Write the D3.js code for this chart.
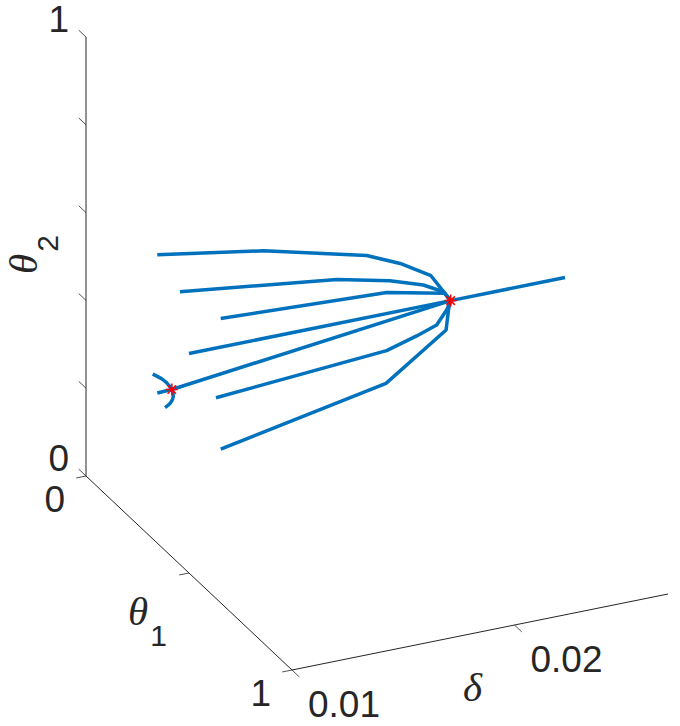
<!DOCTYPE html>
<html>
<head>
<meta charset="utf-8">
<script src="https://cdn.jsdelivr.net/npm/d3@7"></script>
<style>
  html, body { margin: 0; padding: 0; background: #fff; }
  .tick-label { font-family: "Liberation Sans", Arial, Helvetica, sans-serif; font-size: 37px; fill: #262626; }
  .axis-title { font-family: "Liberation Serif", "Times New Roman", serif; font-style: italic; font-size: 41px; fill: #262626; }
  .sub { font-family: "Liberation Sans", Arial, sans-serif; font-style: normal; font-size: 30px; }
</style>
</head>
<body>
<div id="main"></div>
<script>
// axis ranges and ticks
const deltaDomain = [0.01, 0.0269];
const theta1Domain = [0, 1];
const theta2Domain = [0, 1];
const deltaTicks = [0.01, 0.02];
const theta1Ticks = [0, 0.5, 1];
const theta2Ticks = [0, 0.2, 0.4, 0.6, 0.8, 1];
const deltaTickLabels = ["0.01", "0.02"];
const theta1TickLabels = ["0", "", "1"];
const theta2TickLabels = ["0", "", "", "", "", "1"];

// branches: [delta, theta1, theta2]
const branchA = [
  [0.01, 0.346, 0.657],
  [0.01425, 0.402, 0.647],
  [0.01839, 0.456, 0.618],
  [0.01973, 0.474, 0.594],
  [0.02094, 0.493, 0.562],
  [0.02176, 0.5, 0.5]
];
const branchB = [
  [0.01, 0.456, 0.621],
  [0.01681, 0.482, 0.591],
  [0.01912, 0.490, 0.568],
  [0.02057, 0.496, 0.546],
  [0.02144, 0.499, 0.523],
  [0.02176, 0.5, 0.5]
];
const branchC = [
  [0.01, 0.654, 0.648],
  [0.01849, 0.543, 0.571],
  [0.02147, 0.503, 0.521],
  [0.02176, 0.5, 0.5]
];
const branchSym = [
  [0.01, 0.5, 0.5],
  [0.02176, 0.5, 0.5],
  [0.0269, 0.5, 0.5]
];
const branchE = [
  [0.01, 0.346, 0.342],
  [0.01059, 0.353, 0.347],
  [0.02176, 0.5, 0.5]
];
const branchF = [
  [0.01, 0.631, 0.457],
  [0.01853, 0.538, 0.436],
  [0.02003, 0.522, 0.447],
  [0.02103, 0.511, 0.457],
  [0.02153, 0.506, 0.484],
  [0.02176, 0.5, 0.5]
];
const branchG = [
  [0.01, 0.654, 0.350],
  [0.01843, 0.546, 0.366],
  [0.02149, 0.507, 0.439],
  [0.02163, 0.505, 0.487],
  [0.02176, 0.5, 0.5]
];
const arc = [
  [0.01059, 0.260, 0.341],
  [0.01059, 0.308, 0.350],
  [0.01059, 0.342, 0.350],
  [0.01059, 0.353, 0.347],
  [0.01059, 0.360, 0.334],
  [0.01059, 0.347, 0.314],
  [0.01059, 0.320, 0.291]
];
const stars = [
  [0.02176, 0.5, 0.5],
  [0.01059, 0.353, 0.347]
];

const width = 680;
const height = 726;

// screen vectors of the 3D box
const origin = [86, 476];
const vx = [376, -76];
const vy = [206, 194];
const vz = [0, -439];

const xScale = d3.scaleLinear().domain(deltaDomain).range([0, 1]);
const yScale = d3.scaleLinear().domain(theta1Domain).range([0, 1]);
const zScale = d3.scaleLinear().domain(theta2Domain).range([0, 1]);

const proj = (p) => {
  const a = xScale(p[0]), b = yScale(p[1]), c = zScale(p[2]);
  return [origin[0] + a * vx[0] + b * vy[0] + c * vz[0],
          origin[1] + a * vx[1] + b * vy[1] + c * vz[1]];
};

const svg = d3.select('#main')
  .append('svg')
  .attr('width', width)
  .attr('height', height);

const axisColor = '#262626';
const line = d3.line();

// axis lines
const axes = svg.append('g').attr('class', 'axes');
axes.append('path')
  .attr('d', line([proj([deltaDomain[0], 0, 0]), proj([deltaDomain[0], 0, 1])]))
  .attr('stroke', axisColor).attr('stroke-width', 1).attr('fill', 'none');
axes.append('path')
  .attr('d', line([proj([deltaDomain[0], 0, 0]), proj([deltaDomain[0], 1, 0])]))
  .attr('stroke', axisColor).attr('stroke-width', 1).attr('fill', 'none');
axes.append('path')
  .attr('d', line([proj([deltaDomain[0], 1, 0]), proj([deltaDomain[1], 1, 0])]))
  .attr('stroke', axisColor).attr('stroke-width', 1).attr('fill', 'none');

// tick marks
const tickLen = 10;
const unit = (v) => { const l = Math.hypot(v[0], v[1]); return [v[0] / l, v[1] / l]; };
const uy = unit(vy), ux = unit(vx);

theta2Ticks.forEach((t, i) => {
  const p = proj([deltaDomain[0], 0, t]);
  axes.append('path')
    .attr('d', line([p, [p[0] - uy[0] * tickLen, p[1] - uy[1] * tickLen]]))
    .attr('stroke', axisColor).attr('stroke-width', 0.8);
  if (theta2TickLabels[i]) {
    axes.append('text').attr('class', 'tick-label')
      .attr('x', p[0] - 17).attr('y', p[1] - 5)
      .attr('text-anchor', 'end')
      .text(theta2TickLabels[i]);
  }
});

theta1Ticks.forEach((t, i) => {
  const p = proj([deltaDomain[0], t, 0]);
  axes.append('path')
    .attr('d', line([p, [p[0] - ux[0] * tickLen, p[1] - ux[1] * tickLen]]))
    .attr('stroke', axisColor).attr('stroke-width', 0.8);
  if (theta1TickLabels[i]) {
    axes.append('text').attr('class', 'tick-label')
      .attr('x', p[0] - 21).attr('y', p[1] + 36)
      .attr('text-anchor', 'end')
      .text(theta1TickLabels[i]);
  }
});

deltaTicks.forEach((t, i) => {
  const p = proj([t, 1, 0]);
  axes.append('path')
    .attr('d', line([p, [p[0] + uy[0] * tickLen, p[1] + uy[1] * tickLen]]))
    .attr('stroke', axisColor).attr('stroke-width', 0.8);
  axes.append('text').attr('class', 'tick-label')
    .attr('x', p[0] + 16).attr('y', p[1] + 47)
    .attr('text-anchor', 'start')
    .text(deltaTickLabels[i]);
});

// axis titles
svg.append('text').attr('class', 'axis-title')
  .attr('x', 463).attr('y', 701)
  .text('δ');

const t1 = svg.append('text').attr('class', 'axis-title')
  .attr('x', 128).attr('y', 625);
t1.append('tspan').text('θ');
t1.append('tspan').attr('class', 'sub').attr('dx', 2).attr('dy', 21).text('1');

const t2 = svg.append('text').attr('class', 'axis-title')
  .attr('transform', 'translate(37,274) rotate(-90)');
t2.append('tspan').text('θ');
t2.append('tspan').attr('class', 'sub').attr('dx', 2).attr('dy', 21).text('2');

// branches
const branches = [branchA, branchB, branchC, branchSym, branchE, branchF, branchG];
svg.append('g')
  .selectAll('path')
  .data(branches)
  .enter()
  .append('path')
  .attr('d', (d) => line(d.map(proj)))
  .attr('fill', 'none')
  .attr('stroke', '#0072BD')
  .attr('stroke-width', 3.5)
  .attr('stroke-linejoin', 'round');

svg.append('path')
  .attr('d', d3.line().curve(d3.curveCatmullRom)(arc.map(proj)))
  .attr('fill', 'none')
  .attr('stroke', '#0072BD')
  .attr('stroke-width', 3.5);

// equilibrium markers
const r = 6;
const starPath = (p) => {
  const [x, y] = p;
  const s = r * Math.SQRT1_2;
  return `M${x - r},${y}L${x + r},${y}M${x},${y - r}L${x},${y + r}` +
         `M${x - s},${y - s}L${x + s},${y + s}M${x - s},${y + s}L${x + s},${y - s}`;
};
svg.append('g')
  .selectAll('path')
  .data(stars)
  .enter()
  .append('path')
  .attr('d', (d) => starPath(proj(d)))
  .attr('stroke', '#ff0000')
  .attr('stroke-width', 1.5)
  .attr('fill', 'none');
</script>
</body>
</html>
